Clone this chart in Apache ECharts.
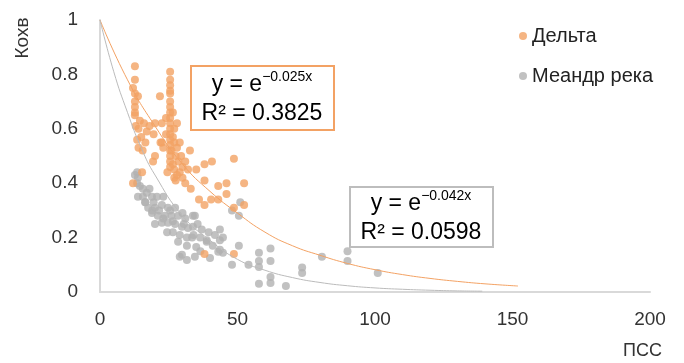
<!DOCTYPE html>
<html>
<head>
<meta charset="utf-8">
<script src="https://cdn.jsdelivr.net/npm/echarts@6/dist/echarts.min.js"></script>
<style>
  html, body { margin: 0; padding: 0; background: #fff; }
  #chart { width: 684px; height: 363px; }
</style>
</head>
<body>
<div id="chart"></div>
<script>
// ticks
var xTicks = [0, 50, 100, 150, 200]
var yTicks = [0, 0.2, 0.4, 0.6, 0.8, 1]

// Дельта  [ПСС, Кохв]
var deltaPoints = [
  [12.7, 0.83], [12.7, 0.78], [12, 0.75], [25.5, 0.81], [25.5, 0.78], [25.5, 0.76], [25.5, 0.74], [25.5, 0.73],
  [12.7, 0.73], [12.7, 0.70], [12.7, 0.68], [12.7, 0.66], [12.7, 0.65], [13.8, 0.72], [21.8, 0.72],
  [25.5, 0.70], [25.5, 0.68], [25.5, 0.66], [25.5, 0.64], [25.5, 0.62], [25.5, 0.60], [25.5, 0.58], [25.5, 0.56],
  [25.5, 0.54], [25.5, 0.52], [25.5, 0.50], [25.5, 0.48], [25.5, 0.46],
  [14.5, 0.63], [16, 0.62], [18, 0.61], [14, 0.60], [17, 0.59], [15, 0.57], [13.5, 0.56], [16.5, 0.55],
  [14, 0.53], [15.5, 0.52], [13, 0.61], [19.5, 0.58], [20, 0.62],
  [22.5, 0.62], [29, 0.55], [32.7, 0.52], [38, 0.47], [40.7, 0.48], [22, 0.55], [23, 0.53], [19.3, 0.48],
  [20, 0.50], [22.5, 0.55],
  [24, 0.58], [26.5, 0.57], [27, 0.55], [28, 0.53], [26, 0.52], [27.5, 0.50], [28.5, 0.48], [26.5, 0.47],
  [27, 0.45], [28, 0.43], [29, 0.44], [30, 0.46], [30, 0.42], [31, 0.40], [27.5, 0.41], [24.5, 0.44],
  [29.5, 0.50], [31, 0.48], [32, 0.45], [27, 0.60], [28, 0.62], [24, 0.64], [26.5, 0.66], [27, 0.42],
  [48.7, 0.49], [38, 0.41], [43, 0.39], [46, 0.40], [52.4, 0.40], [46, 0.36], [36, 0.34], [38, 0.32],
  [40.4, 0.34], [43, 0.34], [48.7, 0.31], [52.4, 0.32], [15.3, 0.44], [12, 0.40], [38, 0.14], [48.7, 0.14],
  [35, 0.45], [33, 0.38]
]

// Меандр река
var meanderPoints = [
  [12.7, 0.43], [13.5, 0.44], [13.8, 0.42], [13.5, 0.40], [14.5, 0.39], [15.6, 0.38], [18, 0.38], [17, 0.365],
  [13.8, 0.35], [15.6, 0.35], [18.9, 0.35], [20.7, 0.35], [23, 0.35], [16.4, 0.33],
  [17.5, 0.31], [20, 0.31], [22.5, 0.32], [24.7, 0.31], [27.3, 0.31],
  [18.9, 0.29], [21, 0.28], [23.6, 0.28], [26, 0.28], [28.4, 0.28], [31, 0.27], [34.5, 0.28], [33.8, 0.28],
  [20, 0.25], [22.5, 0.255], [24.7, 0.255], [27.3, 0.25], [29.8, 0.24], [32, 0.235], [33.8, 0.24], [37, 0.23],
  [24.4, 0.22], [26.5, 0.22], [29, 0.21], [31.6, 0.20], [33.5, 0.20], [36.4, 0.20], [38.8, 0.19], [41.8, 0.21],
  [43.6, 0.19], [28.4, 0.185], [31.6, 0.17], [35, 0.165], [38.8, 0.185],
  [29.8, 0.137], [31.6, 0.118], [34.5, 0.13], [40, 0.125], [43, 0.148], [29, 0.13],
  [19, 0.30], [21.5, 0.30], [25.5, 0.30], [30, 0.29], [23, 0.27], [26.5, 0.26], [30.5, 0.25], [35.5, 0.25],
  [39.5, 0.22], [34, 0.21], [41, 0.17], [36.5, 0.15], [16.5, 0.33], [19.5, 0.33],
  [51, 0.33], [48, 0.30], [50.5, 0.28], [43.6, 0.23], [44.7, 0.20], [43.6, 0.155], [44.7, 0.144], [50.5, 0.17],
  [48, 0.10], [54, 0.10], [57.8, 0.144], [57.8, 0.114], [57.8, 0.092], [62, 0.16], [62, 0.114],
  [57.8, 0.03], [62, 0.055], [62, 0.033], [67.6, 0.022], [73.5, 0.09], [73.5, 0.07], [80.7, 0.13],
  [90, 0.15], [90, 0.114], [101, 0.07]
]

// trend lines
var deltaTrend = [
  [0, 1], [10, 0.78], [20, 0.61], [30, 0.47], [40, 0.37], [50, 0.29], [60, 0.22], [70, 0.17], [80, 0.135],
  [90, 0.105], [100, 0.082], [110, 0.064], [120, 0.05], [130, 0.039], [140, 0.03], [152, 0.022]
]
var meanderTrend = [
  [0, 1], [5, 0.81], [10, 0.66], [15, 0.53], [20, 0.43], [30, 0.28], [40, 0.19], [50, 0.12], [60, 0.08],
  [70, 0.053], [80, 0.035], [90, 0.023], [100, 0.015], [110, 0.01], [120, 0.0065], [130, 0.004], [139, 0.003]
]

var seriesNames = ['Дельта', 'Меандр река']
var axisNames = ['ПСС', 'Кохв']
var eqDelta = ['y = e', '−0.025x', 'R² = 0.3825']
var eqMeander = ['y = e', '−0.042x', 'R² = 0.0598']

var chart = echarts.init(document.getElementById('chart'))
var font = 'Liberation Sans'
var orange = '#F3A264'
var gray = '#B2B2B2'

function eqText(eq) {
  return '{a|' + eq[0] + '}{s|' + eq[1] + '}\n{a|' + eq[2] + '}'
}
var eqRich = {
  a: { fontSize: 23, fontFamily: font, color: '#111', lineHeight: 29 },
  s: { fontSize: 14, fontFamily: font, color: '#111', verticalAlign: 'top', padding: [0, 0, 12, 0] }
}

var option = {
  animation: false,
  grid: { left: 100, right: 34, top: 20, bottom: 71 },
  legend: {
    orient: 'vertical',
    left: 514,
    top: 21,
    itemGap: 20,
    itemWidth: 8,
    itemHeight: 8,
    data: [
      { name: seriesNames[0], icon: 'circle' },
      { name: seriesNames[1], icon: 'circle' }
    ],
    textStyle: { fontSize: 20, fontFamily: font, color: '#222' }
  },
  xAxis: {
    type: 'value',
    min: xTicks[0],
    max: xTicks[xTicks.length - 1],
    interval: 50,
    name: axisNames[0],
    nameLocation: 'end',
    nameGap: 12,
    nameTextStyle: {
      fontSize: 18, fontFamily: font, color: '#333',
      align: 'right', verticalAlign: 'top', padding: [50, 0, 0, 0]
    },
    axisLine: { lineStyle: { color: '#D9D9D9', width: 2 } },
    axisTick: { show: false },
    splitLine: { show: false },
    axisLabel: { fontSize: 19, fontFamily: font, color: '#333', margin: 18 }
  },
  yAxis: {
    type: 'value',
    min: yTicks[0],
    max: yTicks[yTicks.length - 1],
    interval: 0.2,
    axisLine: { show: true, lineStyle: { color: '#D9D9D9', width: 2 } },
    axisTick: { show: false },
    splitLine: { show: false },
    axisLabel: { fontSize: 19, fontFamily: font, color: '#333', margin: 22 }
  },
  series: [
    {
      name: seriesNames[0],
      type: 'scatter',
      symbolSize: 8,
      itemStyle: { color: orange },
      data: deltaPoints,
      z: 3
    },
    {
      name: seriesNames[1],
      type: 'scatter',
      symbolSize: 8,
      itemStyle: { color: gray },
      data: meanderPoints,
      z: 2
    },
    {
      type: 'line',
      smooth: true,
      showSymbol: false,
      silent: true,
      lineStyle: { color: orange, width: 1 },
      data: deltaTrend,
      z: 4
    },
    {
      type: 'line',
      smooth: true,
      showSymbol: false,
      silent: true,
      lineStyle: { color: '#BBBBBB', width: 1 },
      data: meanderTrend,
      z: 4
    }
  ],
  graphic: [
    {
      type: 'text',
      x: 23, y: 38,
      rotation: Math.PI / 2,
      style: {
        text: axisNames[1], fontSize: 19, fontFamily: font, fill: '#333',
        align: 'center', verticalAlign: 'middle'
      }
    },
    {
      type: 'rect',
      shape: { x: 191, y: 66, width: 143, height: 64 },
      style: { fill: '#fff', stroke: orange, lineWidth: 2 },
      z: 10
    },
    {
      type: 'text',
      x: 262, y: 99,
      style: { text: eqText(eqDelta), rich: eqRich, align: 'center', verticalAlign: 'middle' },
      z: 11
    },
    {
      type: 'rect',
      shape: { x: 350, y: 187, width: 143, height: 60 },
      style: { fill: '#fff', stroke: '#BDBDBD', lineWidth: 2 },
      z: 10
    },
    {
      type: 'text',
      x: 421, y: 218,
      style: { text: eqText(eqMeander), rich: eqRich, align: 'center', verticalAlign: 'middle' },
      z: 11
    }
  ]
}
chart.setOption(option)
window.addEventListener('resize', function() {
  chart.resize()
})
</script>
</body>
</html>
